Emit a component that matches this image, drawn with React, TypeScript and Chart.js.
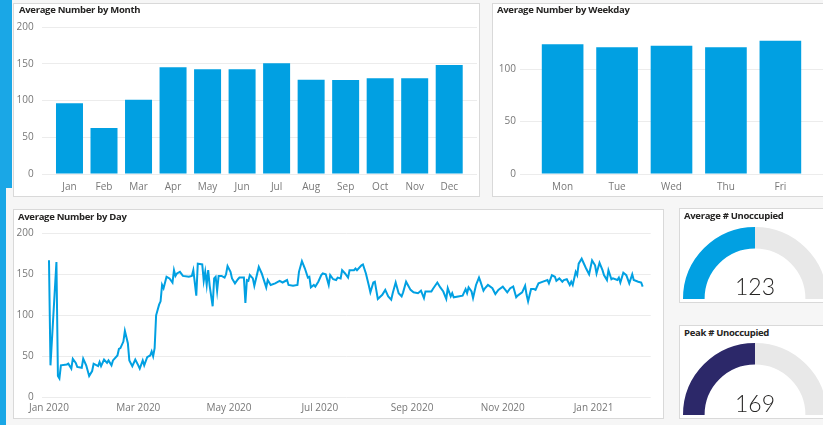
import React, { useEffect, useRef } from "react";
import { Chart, registerables } from "chart.js";
Chart.register(...registerables);

// ---------- data ----------
const monthLabels = ["Jan", "Feb", "Mar", "Apr", "May", "Jun", "Jul", "Aug", "Sep", "Oct", "Nov", "Dec"];
const monthValues = [96.5, 62.7, 101.3, 145.5, 142.7, 142.7, 150.9, 128.6, 128.2, 130.5, 130.5, 148.6];

const weekdayLabels = ["Mon", "Tue", "Wed", "Thu", "Fri"];
const weekdayValues = [123.9, 121.0, 122.5, 121.0, 127.3];

// days since 2020-01-01
const dayOffsets = [
  0, 1, 5, 6, 7, 8, 12, 13, 15, 16, 18, 19, 22, 23, 25, 27, 29, 30, 33, 34, 35, 37, 39, 40, 42, 43, 46, 47, 48, 50,
  51, 53, 54, 56, 58, 60, 61, 63, 64, 66, 68, 69, 70, 71, 72, 74, 75, 76, 77, 79, 81, 83, 84, 85, 86, 88, 90, 94, 96, 97,
  99, 100, 103, 104, 105, 106, 107, 108, 110, 111, 112, 113, 114, 116, 118, 119, 120, 122, 123, 125, 127, 128, 131, 132, 133, 134, 135, 137, 138, 141,
  143, 146, 147, 149, 152, 155, 157, 160, 161, 164, 167, 168, 170, 172, 174, 175, 176, 178, 179, 181, 183, 184, 186, 188, 189, 191, 193, 194, 196, 197,
  199, 201, 202, 205, 206, 207, 210, 211, 213, 215, 216, 218, 219, 221, 224, 226, 228, 230, 231, 233, 235, 237, 238, 240, 243, 245, 248, 250, 252, 253,
  257, 258, 261, 263, 265, 267, 268, 270, 271, 272, 275, 278, 280, 281, 282, 284, 285, 287, 289, 290, 292, 293, 295, 298, 300, 302, 305, 308, 310, 312,
  314, 315, 318, 320, 321, 322, 324, 326, 327, 329, 332, 335, 336, 338, 340, 341, 343, 345, 346, 348, 350, 351, 352, 354, 355, 356, 358, 360, 361, 363,
  365, 367, 368, 370, 372, 373, 375, 376, 378, 379, 382, 383, 384, 386, 388, 390, 392, 393, 396, 398, 399,
];
const dayValues = [
  167, 39, 165, 26, 23, 39, 40, 41, 35, 47, 42, 37, 36, 47, 39, 26, 32, 41, 38, 43, 38, 46, 42, 45, 39, 45, 51, 59, 60, 68,
  81, 66, 45, 38, 46, 39, 35, 45, 39, 49, 51, 56, 50, 60, 100, 113, 117, 137, 133, 147, 145, 140, 155, 148, 151, 153, 148, 147, 148, 155,
  124, 163, 162, 142, 153, 137, 155, 136, 111, 145, 147, 130, 148, 148, 146, 150, 160, 153, 145, 139, 144, 146, 146, 115, 143, 142, 149, 145, 136, 159,
  151, 134, 143, 137, 139, 142, 140, 143, 137, 136, 137, 153, 166, 157, 146, 147, 134, 137, 135, 141, 149, 151, 150, 137, 149, 144, 143, 146, 145, 155,
  151, 146, 155, 155, 157, 155, 161, 162, 151, 136, 128, 140, 141, 120, 125, 131, 123, 119, 127, 140, 127, 123, 128, 141, 131, 128, 127, 130, 121, 129,
  129, 132, 140, 134, 129, 120, 133, 123, 127, 122, 123, 124, 132, 127, 134, 129, 121, 137, 146, 141, 130, 133, 137, 133, 126, 131, 135, 128, 133, 135,
  122, 124, 128, 136, 125, 117, 132, 132, 131, 139, 141, 143, 139, 149, 147, 142, 145, 141, 143, 144, 137, 141, 137, 153, 149, 163, 169, 161, 157, 150,
  167, 161, 151, 164, 155, 149, 143, 155, 144, 145, 143, 146, 140, 152, 149, 139, 150, 143, 141, 140, 135,
];
const dayTickOffsets = [0, 60, 121, 182, 244, 305, 366];
const dayTickLabels = ["Jan 2020", "Mar 2020", "May 2020", "Jul 2020", "Sep 2020", "Nov 2020", "Jan 2021"];

const avgUnoccupied = 123;
const peakUnoccupied = 169;

// ---------- styles ----------
const BLUE = "#01a0e2";
const NAVY = "#2c2869";
const GAUGE_BG = "#e8e8e8";
const GRID = "#ececec";
const TICK = "#777777";
const FONT = "'Segoe UI', 'Open Sans', 'Noto Sans', sans-serif";
const tickFont = { family: FONT, size: 10 };

function barConfig(labels: string[], values: number[], o: any) {
  return {
    type: "bar",
    data: {
      datasets: [
        {
          data: values.map((v, i) => ({ x: i, y: v })),
          backgroundColor: BLUE,
          borderWidth: 0,
          barPercentage: o.barPct,
          categoryPercentage: 1,
        },
      ],
    },
    options: {
      animation: false,
      responsive: false,
      events: [],
      layout: { padding: o.padding },
      plugins: { legend: { display: false }, tooltip: { enabled: false } },
      scales: {
        x: {
          type: "linear",
          offset: false,
          min: o.xMin,
          max: o.xMax,
          grid: { display: false, offset: false },
          border: { display: false },
          afterBuildTicks: (ax: any) => {
            ax.ticks = labels.map((_, i) => ({ value: i }));
          },
          afterFit: (ax: any) => {
            ax.height = o.xH;
          },
          ticks: {
            autoSkip: false,
            maxRotation: 0,
            padding: o.xPad,
            color: TICK,
            font: tickFont,
            callback: (v: any) => labels[v],
          },
        },
        y: {
          min: 0,
          max: o.yMax,
          grid: { color: GRID, drawTicks: false },
          border: { display: false },
          afterBuildTicks: (ax: any) => {
            ax.ticks = ax.ticks.filter((t: any) => t.value % 50 === 0);
          },
          afterFit: (ax: any) => {
            ax.width = o.yW;
          },
          ticks: { stepSize: 50, padding: o.yPad, color: TICK, font: tickFont },
        },
      },
    },
  };
}

function lineConfig() {
  return {
    type: "line",
    data: {
      datasets: [
        {
          data: dayOffsets.map((d, i) => ({ x: d, y: dayValues[i] })),
          borderColor: BLUE,
          borderWidth: 2,
          pointRadius: 0,
          tension: 0,
          fill: false,
        },
      ],
    },
    options: {
      animation: false,
      responsive: false,
      events: [],
      layout: { padding: { top: 24.3, right: 13.3, bottom: 0, left: 0 } },
      plugins: { legend: { display: false }, tooltip: { enabled: false } },
      scales: {
        x: {
          type: "linear",
          min: -4.9,
          max: 404.4,
          grid: { display: false },
          border: { display: false },
          afterBuildTicks: (ax: any) => {
            ax.ticks = dayTickOffsets.map((v) => ({ value: v }));
          },
          afterFit: (ax: any) => {
            ax.height = 21.7;
          },
          ticks: {
            autoSkip: false,
            maxRotation: 0,
            padding: -3,
            color: TICK,
            font: tickFont,
            callback: (v: any) => dayTickLabels[dayTickOffsets.indexOf(v)],
          },
        },
        y: {
          min: 0,
          max: 200,
          grid: { color: GRID, drawTicks: false },
          border: { display: false },
          afterFit: (ax: any) => {
            ax.width = 28.7;
          },
          ticks: { stepSize: 50, padding: 8, color: TICK, font: tickFont },
        },
      },
    },
  };
}

function gaugeConfig(value: number, color: string) {
  const max = value * 2;
  return {
    type: "doughnut",
    data: {
      labels: ["value", "rest"],
      datasets: [{ data: [value, max - value], backgroundColor: [color, GAUGE_BG], borderWidth: 0 }],
    },
    options: {
      animation: false,
      responsive: false,
      events: [],
      rotation: -90,
      circumference: 180,
      cutout: "70%",
      layout: { padding: 0 },
      plugins: { legend: { display: false }, tooltip: { enabled: false } },
    },
  };
}

function ChartCanvas({ left, top, width, height, config }: any) {
  const ref = useRef<HTMLCanvasElement>(null);
  useEffect(() => {
    const chart = new Chart(ref.current as HTMLCanvasElement, config() as any);
    return () => chart.destroy();
  }, []);
  return (
    <canvas
      ref={ref}
      width={width}
      height={height}
      style={{ position: "absolute", left, top, width, height, display: "block" }}
    />
  );
}

function Panel({ left, top, width, height }: any) {
  return (
    <div
      style={{
        position: "absolute",
        left,
        top,
        width,
        height,
        boxSizing: "border-box",
        border: "1px solid #d9d9d9",
        background: "#ffffff",
      }}
    />
  );
}

function Title({ left, top, text }: any) {
  return (
    <div
      style={{
        position: "absolute",
        left,
        top,
        fontFamily: FONT,
        fontWeight: 700,
        fontSize: 9.5,
        letterSpacing: "-0.3px",
        lineHeight: "12px",
        color: "#252423",
        whiteSpace: "nowrap",
      }}
    >
      {text}
    </div>
  );
}

function GaugeValue({ cx, top, text }: any) {
  return (
    <div
      style={{
        position: "absolute",
        left: cx - 50,
        width: 100,
        top,
        textAlign: "center",
        fontFamily: "'Segoe UI Light', Lato, 'Open Sans', sans-serif",
        fontWeight: 300,
        fontSize: 23,
        lineHeight: "24px",
        color: "#252423",
      }}
    >
      {text}
    </div>
  );
}

export default function App() {
  return (
    <div
      style={{
        position: "absolute",
        left: 0,
        top: 0,
        width: 823,
        height: 425,
        overflow: "hidden",
        background: "#f6f6f6",
      }}
    >
      <div style={{ position: "absolute", left: 0, top: 0, width: 12, height: 188, background: "#1aa7e6" }} />
      <div style={{ position: "absolute", left: 0, top: 188, width: 6, height: 237, background: "#1aa7e6" }} />

      <Panel left={13} top={3} width={467} height={194} />
      <Panel left={492} top={3} width={340} height={194} />
      <Panel left={13} top={209} width={651} height={210} />
      <Panel left={679} top={208} width={160} height={95} />
      <Panel left={679} top={325} width={160} height={94} />

      <ChartCanvas
        left={13}
        top={3}
        width={467}
        height={194}
        config={() =>
          barConfig(monthLabels, monthValues, {
            barPct: 0.782,
            xMin: -0.805,
            xMax: 11.805,
            yMax: 200,
            yW: 28.7,
            xH: 23,
            xPad: -1,
            yPad: 8,
            padding: { top: 24.3, right: 3, bottom: 0, left: 0 },
          })
        }
      />
      <ChartCanvas
        left={492}
        top={3}
        width={331}
        height={194}
        config={() =>
          barConfig(weekdayLabels, weekdayValues, {
            barPct: 0.765,
            xMin: -0.783,
            xMax: 4.783,
            yMax: 140,
            yW: 28,
            xH: 23,
            xPad: -1,
            yPad: 4,
            padding: { top: 24.4, right: 0, bottom: 0, left: 0 },
          })
        }
      />
      <ChartCanvas left={13} top={209} width={651} height={210} config={lineConfig} />
      <ChartCanvas left={683} top={227} width={144} height={72} config={() => gaugeConfig(avgUnoccupied, BLUE)} />
      <ChartCanvas left={683} top={343} width={144} height={72} config={() => gaugeConfig(peakUnoccupied, NAVY)} />

      <Title left={19} top={4} text="Average Number by Month" />
      <Title left={497} top={4} text="Average Number by Weekday" />
      <Title left={18} top={210.6} text="Average Number by Day" />
      <Title left={684} top={210} text="Average # Unoccupied" />
      <Title left={684} top={326.6} text="Peak # Unoccupied" />

      <GaugeValue cx={755} top={274} text={String(avgUnoccupied)} />
      <GaugeValue cx={755} top={391} text={String(peakUnoccupied)} />
    </div>
  );
}
